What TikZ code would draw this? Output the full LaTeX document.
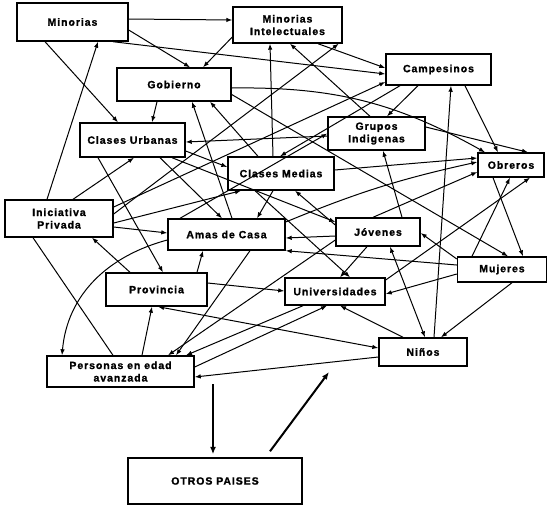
\documentclass[tikz,border=0pt]{standalone}
\usepackage{fontspec}
\setmainfont{Liberation Sans}[LetterSpace=9, BoldFeatures={FakeBold=1.3}]
\usetikzlibrary{arrows.meta}
\begin{document}
\begin{tikzpicture}[x=1pt,y=-1pt,
  box/.style={draw, line width=1.4pt, inner sep=0pt, align=center,
    font=\bfseries\fontsize{10.5}{12.5}\selectfont},
  link/.style={line width=1pt, -{Latex[length=6pt,width=4.5pt]}},
  both/.style={line width=1pt, {Latex[length=6pt,width=4.5pt]}-{Latex[length=6pt,width=4.5pt]}},
  plain/.style={line width=1pt},
  heavy/.style={line width=2pt, -{Latex[length=7.5pt,width=6pt]}}]
\useasboundingbox (0,0) rectangle (548,507);
\fill[white] (0,0) rectangle (548,507);

% boxes
\node[box, minimum width=111pt, minimum height=38pt] (min)    at (72.5,22)   {Minorias};
\node[box, minimum width=109pt, minimum height=36pt] (minint) at (287.5,25)  {Minorias\\Intelectuales};
\node[box, minimum width=114pt, minimum height=33pt] (gob)    at (174,84.5)  {Gobierno};
\node[box, minimum width=105pt, minimum height=31pt] (camp)   at (438.5,69.5){Campesinos};
\node[box, minimum width=105pt, minimum height=34pt] (curb)   at (132.5,140) {Clases Urbanas};
\node[box, minimum width=97pt,  minimum height=33pt] (grupos) at (376.5,133.5){Grupos\\Indigenas};
\node[box, minimum width=106pt, minimum height=33pt] (cmed)   at (281,173.5) {Clases Medias};
\node[box, minimum width=66pt,  minimum height=24pt] (obr)    at (511,165)   {Obreros};
\node[box, minimum width=108pt, minimum height=37pt] (inic)   at (59,218.5)  {Iniciativa\\Privada};
\node[box, minimum width=117pt, minimum height=31pt] (amas)   at (226.5,234.5){Amas de Casa};
\node[box, minimum width=84pt,  minimum height=28pt] (jov)    at (378,232)   {Jóvenes};
\node[box, minimum width=89pt,  minimum height=25pt] (muj)    at (502,269.5) {Mujeres};
\node[box, minimum width=101pt, minimum height=33pt] (prov)   at (156.5,289.5){Provincia};
\node[box, minimum width=100pt, minimum height=27pt] (univ)   at (335,291.5) {Universidades};
\node[box, minimum width=88pt,  minimum height=28pt] (ninos)  at (423,352)   {Niños};
\node[box, minimum width=147pt, minimum height=31pt] (pers)   at (120.5,371.5){Personas en edad\\avanzada};
\node[box, minimum width=174pt, minimum height=46pt] (otros)  at (215,481)   {OTROS PAISES};

% Minorias and Minorias Intelectuales
\draw[link] ([yshift=3pt]min.east) -- ([yshift=5pt]minint.west);
\draw[link] ([yshift=-8pt]min.east) -- ([xshift=16pt]gob.north);
\draw[link] ([yshift=-12pt]minint.west) -- ([xshift=29pt]gob.north);
\draw[link] ([xshift=-27.5pt]min.south) -- ([xshift=-14.5pt]curb.north);
\draw[link] ([xshift=40.5pt]min.south) -- ([yshift=-4.5pt]camp.west);
\draw[link] ([xshift=-12pt]inic.north) -- ([xshift=25.5pt]min.south);
\draw[link] ([xshift=30.5pt]minint.south) -- ([yshift=1.5pt]camp.west);
\draw[link] ([xshift=-6.5pt]grupos.north) -- ([xshift=2.5pt]minint.south);
\draw[link] ([xshift=-8pt]cmed.north) -- ([xshift=-17.5pt]minint.south);

% Gobierno
\draw[link] ([xshift=-17pt]gob.south) -- ([xshift=19.5pt]curb.north);
\draw[link] ([xshift=5.5pt]amas.north) -- ([xshift=18pt]gob.south);
\draw[link] ([xshift=-23pt]cmed.north) -- ([xshift=36pt]gob.south);
\draw[link] ([yshift=-3.5pt]gob.east) to[bend left=15] ([xshift=-26pt]obr.north);
\draw[link] ([yshift=-10pt]gob.east) -- ([xshift=6pt]muj.north);

% Clases Urbanas
\draw[link] ([yshift=-2.5pt]grupos.west) -- ([yshift=-2pt]curb.east);
\draw[link] ([yshift=-11pt]curb.east) -- ([yshift=6.5pt]cmed.west);
\draw[link] ([xshift=-34.5pt]curb.south) -- ([xshift=6.5pt]prov.north);
\draw[link] ([xshift=14pt]inic.north) -- ([xshift=1.5pt]curb.south);
\draw[link] ([xshift=27.5pt]curb.south) -- ([xshift=-4.5pt]amas.north);
\draw[link] ([xshift=39.5pt]curb.south) -- ([yshift=10pt]jov.west);

% Campesinos
\draw[link] ([xshift=-38.5pt]camp.south) -- ([xshift=-1pt]cmed.north);
\draw[link] ([xshift=-20.5pt]camp.south) -- ([xshift=10.5pt]grupos.north);
\draw[link] ([xshift=26.5pt]camp.south) -- ([xshift=-13pt]obr.north);
\draw[link] ([xshift=11pt]ninos.north) -- ([xshift=12.5pt]camp.south);

% Grupos Indigenas, Clases Medias, Obreros
\draw[link] ([yshift=6.5pt]grupos.east) -- ([xshift=17pt]obr.north);
\draw[link] ([yshift=3.5pt]cmed.east) -- ([yshift=7pt]obr.west);
\draw[link] ([yshift=12.5pt]amas.east) to[bend left=5] ([yshift=3pt]obr.west);
\draw[link] ([xshift=-46.5pt]amas.north) -- (grupos.west);
\draw[link] ([xshift=-8pt]cmed.south) -- ([xshift=30.5pt]amas.north);
\draw[link] ([xshift=-26pt]cmed.south) -- ([xshift=15pt]univ.north);

% Iniciativa Privada
\draw[link] ([yshift=11.5pt]inic.east) -- ([yshift=-12.5pt]camp.west);
\draw[link] ([yshift=4.5pt]inic.east) -- ([xshift=-4pt]minint.south east);
\draw[link] ([yshift=-4.5pt]inic.east) -- ([xshift=-40pt]cmed.south);
\draw[link] ([yshift=-8.5pt]inic.east) -- ([yshift=1.5pt]amas.west);
\draw[plain] ([xshift=-7.5pt]pers.north) -- ([xshift=-26pt]inic.south);

% Jovenes
\draw[link] ([xshift=-11pt]jov.south) -- ([xshift=5pt]univ.north);
\draw[link] ([yshift=-4pt]jov.west) -- ([yshift=-3.5pt]amas.east);
\draw[link] ([yshift=7pt]jov.west) -- ([xshift=14pt]cmed.south);
\draw[link] ([xshift=24pt]jov.north) -- ([xshift=6.5pt]grupos.south);
\draw[link] ([xshift=-5pt]jov.north) -- ([yshift=-7pt]obr.west);
\draw[both] ([xshift=12pt]jov.south) -- ([xshift=2pt]ninos.north);
\draw[link] ([yshift=-8pt]jov.west) -- ([xshift=47.5pt]pers.north);

% Mujeres
\draw[link] ([xshift=-30pt]muj.north) -- ([xshift=-1pt]obr.south);
\draw[link] ([xshift=-18pt]obr.south) -- ([xshift=21pt]muj.north);
\draw[link] ([yshift=11.5pt]univ.east) -- ([xshift=19pt]obr.south);
\draw[link] ([yshift=10.5pt]muj.west) -- ([yshift=-1pt]jov.east);
\draw[link] ([yshift=4.5pt]muj.west) -- (amas.south east);
\draw[link] ([yshift=-4.5pt]muj.west) -- ([yshift=-2.5pt]univ.east);
\draw[link] ([xshift=10pt]muj.south) -- ([xshift=18pt]ninos.north);

% Ninos, Universidades, Provincia
\draw[link] ([xshift=-20pt]ninos.north) -- ([xshift=5pt]univ.south);
\draw[both] ([xshift=1.5pt]prov.south) -- ([yshift=4pt]ninos.west);
\draw[link] ([yshift=-5pt]ninos.west) -- ([yshift=-5.5pt]pers.east);
\draw[link] ([xshift=-32pt]univ.south) -- ([xshift=65.5pt]pers.north);
\draw[link] ([yshift=4.5pt]pers.east) -- ([xshift=-8pt]univ.south);
\draw[link] ([yshift=6.5pt]prov.east) -- ([yshift=0.5pt]univ.west);
\draw[link] ([xshift=-26.5pt]prov.north) -- ([xshift=33pt]inic.south);
\draw[link] ([xshift=40.5pt]prov.north) -- ([xshift=-23.5pt]amas.south);
\draw[link] ([xshift=21.5pt]pers.north) -- ([xshift=-4.5pt]prov.south);

% Amas de Casa to Personas
\draw[link] ([yshift=-5.5pt]amas.west) to[out=195,in=85] ([xshift=-58.5pt]pers.north);
\draw[link] ([xshift=23.5pt]amas.south) -- ([xshift=55.5pt]pers.north);

% OTROS PAISES
\coordinate (persout) at (213,384);
\coordinate (ninosin) at (329,372);
\draw[heavy] (persout) -- ([xshift=-2pt,yshift=3pt]otros.north);
\draw[heavy] ([xshift=55pt,yshift=6pt]otros.north) -- (ninosin);
\end{tikzpicture}
\end{document}
